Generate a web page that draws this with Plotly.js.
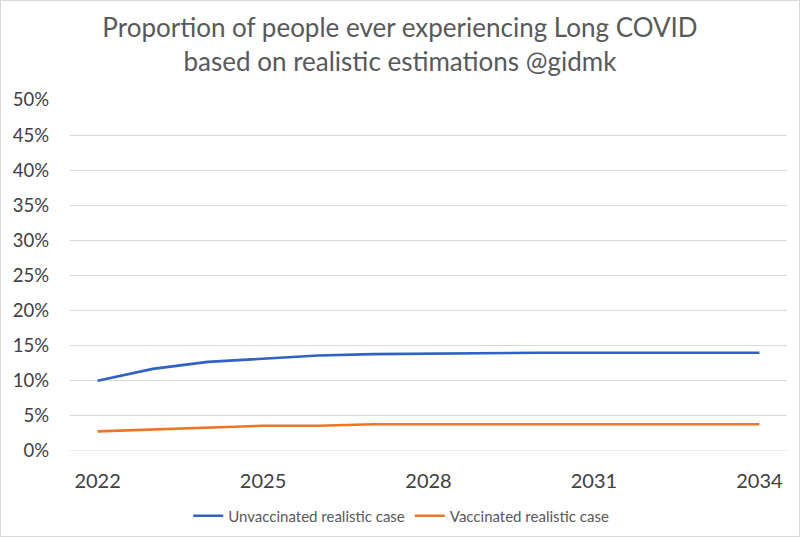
<!DOCTYPE html>
<html>
<head>
<meta charset="utf-8">
<script src="https://cdn.plot.ly/plotly-3.0.1.min.js"></script>
<style>
html,body{margin:0;padding:0;background:#fff;}
#wrap{position:relative;width:800px;height:537px;}
#chart{position:absolute;left:0;top:0;width:800px;height:537px;}
#frame{position:absolute;left:0;top:0;width:798px;height:535px;border:1px solid #d9d9d9;pointer-events:none;}
</style>
</head>
<body>
<div id="wrap"><div id="chart"></div><div id="frame"></div></div>
<script>
const years = [2022, 2023, 2024, 2025, 2026, 2027, 2028, 2029, 2030, 2031, 2032, 2033, 2034];
const unvaccinated = [0.100, 0.117, 0.127, 0.132, 0.136, 0.138, 0.139, 0.140, 0.140, 0.140, 0.140, 0.140, 0.140];
const vaccinated = [0.028, 0.031, 0.034, 0.036, 0.036, 0.038, 0.038, 0.038, 0.038, 0.038, 0.038, 0.038, 0.038];
const seriesNames = ["Unvaccinated realistic case", "Vaccinated realistic case"];
const xTicks = [2022, 2025, 2028, 2031, 2034];
const yTicks = [0, 0.05, 0.10, 0.15, 0.20, 0.25, 0.30, 0.35, 0.40, 0.45, 0.50];
const yTickLabels = ["0%", "5%", "10%", "15%", "20%", "25%", "30%", "35%", "40%", "45%", "50%"];
const titleText = "Proportion of people ever experiencing Long COVID<br>based on realistic estimations @gidmk";

const font = "Lato, 'Open Sans', sans-serif";
const traces = [
  {x: years, y: unvaccinated, name: seriesNames[0], type: "scatter", mode: "lines",
   line: {color: "#2f62c2", width: 2.6}},
  {x: years, y: vaccinated, name: seriesNames[1], type: "scatter", mode: "lines",
   line: {color: "#ef7523", width: 2.6}}
];
const layout = {
  width: 800, height: 537,
  margin: {l: 70, r: 13, t: 100, b: 86, autoexpand: false},
  paper_bgcolor: "#fff", plot_bgcolor: "#fff",
  font: {family: font, color: "#404040"},
  title: {text: titleText, x: 0.5, xanchor: "center", y: 0.931, yanchor: "top",
          font: {family: font, size: 26, color: "#595959"}},
  xaxis: {range: [2021.5, 2034.5], tickvals: xTicks, ticktext: xTicks.map(String),
          showgrid: false, zeroline: false, showline: false, ticks: "",
          ticklabelstandoff: 16, automargin: false,
          tickfont: {size: 20, color: "#404040"}, fixedrange: true},
  yaxis: {range: [0, 0.5], tickvals: yTicks, ticktext: yTickLabels,
          showgrid: true, gridcolor: "#d9d9d9", gridwidth: 1, zeroline: false,
          showline: false, ticks: "", ticklabelstandoff: 20, automargin: false,
          tickfont: {size: 18.5, color: "#404040"}, fixedrange: true},
  shapes: [{type: "line", xref: "paper", yref: "y", x0: 0, x1: 1, y0: 0, y1: 0,
            line: {color: "#d9d9d9", width: 1}}],
  showlegend: true,
  legend: {orientation: "h", x: 0.462, xanchor: "center", yref: "container", y: 0.039, yanchor: "middle",
           font: {size: 15, color: "#595959"}, itemwidth: 30, tracegroupgap: 0}
};
Plotly.newPlot("chart", traces, layout, {displayModeBar: false, staticPlot: true});
</script>
</body>
</html>
